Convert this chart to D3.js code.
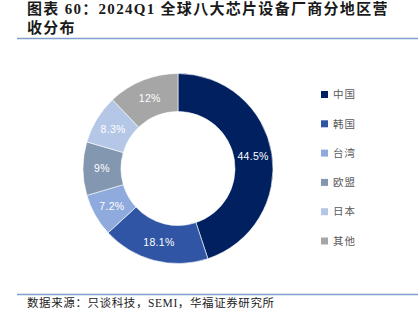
<!DOCTYPE html>
<html><head><meta charset="utf-8">
<script src="https://cdn.jsdelivr.net/npm/d3@7"></script>
<style>
html,body{margin:0;padding:0;background:#fff;}
svg{display:block;}
</style></head>
<body>
<svg id="chart" width="418" height="324"></svg>
<script>
const categories = ["中国","韩国","台湾","欧盟","日本","其他"];
const values = [44.5, 18.1, 7.2, 9, 8.3, 12];
const labels = ["44.5%","18.1%","7.2%","9%","8.3%","12%"];
const colors = ["#002060","#2f55a4","#8faadc","#8497b0","#b4c7e7","#a6a6a6"];
const titleLines = ["图表 60：2024Q1 全球八大芯片设备厂商分地区营","收分布"];
const sourceText = "数据来源：只谈科技，SEMI，华福证券研究所";

const svg = d3.select("#chart");
const serif = "'Liberation Serif','Noto Sans CJK SC',serif";

// Title
svg.selectAll("text.title").data(titleLines).enter().append("text")
  .attr("class","title")
  .attr("x",27).attr("y",(d,i)=>14+i*18.5)
  .attr("font-family",serif).attr("font-weight","bold")
  .attr("font-size",15).attr("letter-spacing",1.3)
  .attr("fill","#1a1a1a").text(d=>d);

svg.append("line").attr("x1",17).attr("x2",418).attr("y1",38.5).attr("y2",38.5)
  .attr("stroke","#7f9fcf").attr("stroke-width",1.5);
svg.append("line").attr("x1",17).attr("x2",418).attr("y1",294.5).attr("y2",294.5)
  .attr("stroke","#7f9fcf").attr("stroke-width",1.5);

svg.append("text").attr("x",27).attr("y",307)
  .attr("font-family",serif).attr("font-size",11.5).attr("letter-spacing",0.6)
  .attr("fill","#222")
  .text(sourceText);

// Donut
const cx = 178, cy = 168.5, rOuter = 95, rInner = 57;
const pie = d3.pie().sort(null).value(d=>d.v);
const data = categories.map((c,i)=>({c, v:values[i], label:labels[i], color:colors[i]}));
const arcs = pie(data);
const arc = d3.arc().innerRadius(rInner).outerRadius(rOuter);
const g = svg.append("g").attr("transform",`translate(${cx},${cy})`);
g.selectAll("path").data(arcs).enter().append("path")
  .attr("d",arc).attr("fill",d=>d.data.color)
  .attr("stroke","#fff").attr("stroke-width",0.6);
g.selectAll("text").data(arcs).enter().append("text")
  .attr("transform",d=>`translate(${arc.centroid(d)})`)
  .attr("text-anchor","middle").attr("dy","0.35em")
  .attr("font-family","'Liberation Sans',Arial,sans-serif").attr("font-size",10.5)
  .attr("letter-spacing",0.3)
  .attr("fill","#fff").text(d=>d.data.label);

// Legend
const ly = d3.scalePoint().domain(categories).range([94.5, 241]);
const lg = svg.append("g");
const items = lg.selectAll("g").data(data).enter().append("g")
  .attr("transform",d=>`translate(321,${ly(d.c)})`);
items.append("rect").attr("x",0).attr("y",-3.5).attr("width",7).attr("height",7)
  .attr("fill",d=>d.color);
items.append("text").attr("x",12).attr("dy","0.36em")
  .attr("font-family","'Noto Sans CJK SC',sans-serif").attr("font-size",10.5)
  .attr("letter-spacing",1)
  .attr("fill","#595959").text(d=>d.c);
</script>
</body></html>
